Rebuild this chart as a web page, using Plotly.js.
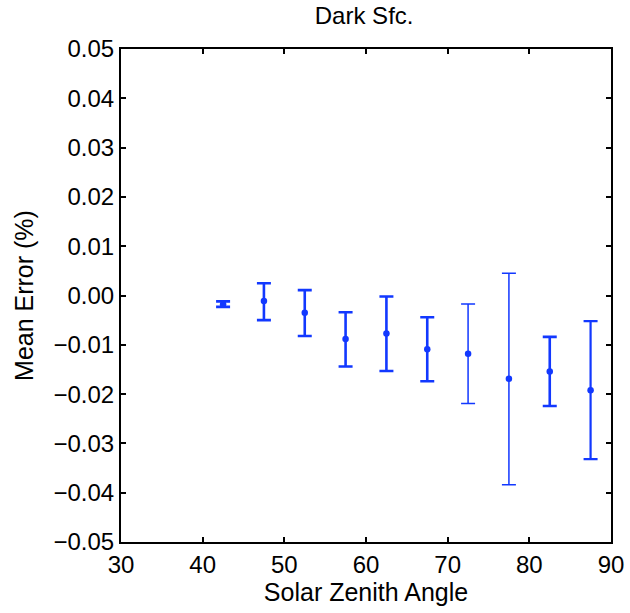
<!DOCTYPE html>
<html>
<head>
<meta charset="utf-8">
<script src="https://cdn.plot.ly/plotly-3.0.1.min.js"></script>
<style>html,body{margin:0;padding:0;background:#fff;}#chart{width:630px;height:613px;}</style>
</head>
<body>
<div id="chart"></div>
<script>
// Solar zenith angle bin centers
const angles = [42.5, 47.5, 52.5, 57.5, 62.5, 67.5, 72.5, 77.5, 82.5, 87.5];
// Mean error values
const meanError = [-0.0018, -0.0011, -0.0035, -0.0088, -0.0077, -0.0109, -0.0118, -0.0169, -0.0154, -0.0192];
// Upper error extent (above mean)
const errPlus = [0.0006, 0.0036, 0.0046, 0.0054, 0.0075, 0.0065, 0.0101, 0.0214, 0.0070, 0.0140];
// Lower error extent (below mean)
const errMinus = [0.0005, 0.0039, 0.0047, 0.0056, 0.0076, 0.0065, 0.0101, 0.0215, 0.0070, 0.0140];
// Bar thickness per point (thin bars for two bins)
const thick = [2.6, 2.6, 2.6, 2.6, 2.6, 2.6, 1.5, 1.5, 2.6, 2.2];

const color = '#1238ff';
const traces = angles.map((a, i) => ({
  type: 'scatter', mode: 'markers',
  x: [a], y: [meanError[i]],
  marker: {color: color, size: 6.5},
  error_y: {type: 'data', symmetric: false, array: [errPlus[i]], arrayminus: [errMinus[i]],
            color: color, thickness: thick[i], width: 7},
  showlegend: false, hoverinfo: 'x+y'
}));

const font = {family: 'Liberation Sans, Arial, sans-serif', color: '#000'};
const layout = {
  width: 630, height: 613,
  margin: {l: 121, r: 19, t: 49, b: 71},
  paper_bgcolor: '#fff', plot_bgcolor: '#fff',
  title: {text: 'Dark Sfc.', font: Object.assign({size: 24}, font), x: 0.578, xanchor: 'center', y: 0.988, yanchor: 'top'},
  xaxis: {
    range: [30, 90], tickvals: [30, 40, 50, 60, 70, 80, 90],
    ticks: 'inside', ticklen: 5, tickwidth: 2, tickcolor: '#000',
    showline: true, linecolor: '#000', linewidth: 2, mirror: 'ticks',
    showgrid: false, zeroline: false,
    tickfont: Object.assign({size: 24}, font),
    title: {text: 'Solar Zenith Angle', font: Object.assign({size: 25}, font), standoff: 2}
  },
  yaxis: {
    range: [-0.05, 0.05], tickvals: [-0.05, -0.04, -0.03, -0.02, -0.01, 0, 0.01, 0.02, 0.03, 0.04, 0.05],
    tickformat: '.2f',
    ticks: 'inside', ticklen: 5, tickwidth: 2, tickcolor: '#000',
    showline: true, linecolor: '#000', linewidth: 2, mirror: 'ticks',
    showgrid: false, zeroline: false,
    tickfont: Object.assign({size: 24}, font),
    title: {text: 'Mean Error (%)', font: Object.assign({size: 25}, font), standoff: 13}
  }
};
Plotly.newPlot('chart', traces, layout, {displayModeBar: false, staticPlot: true});
</script>
</body>
</html>
